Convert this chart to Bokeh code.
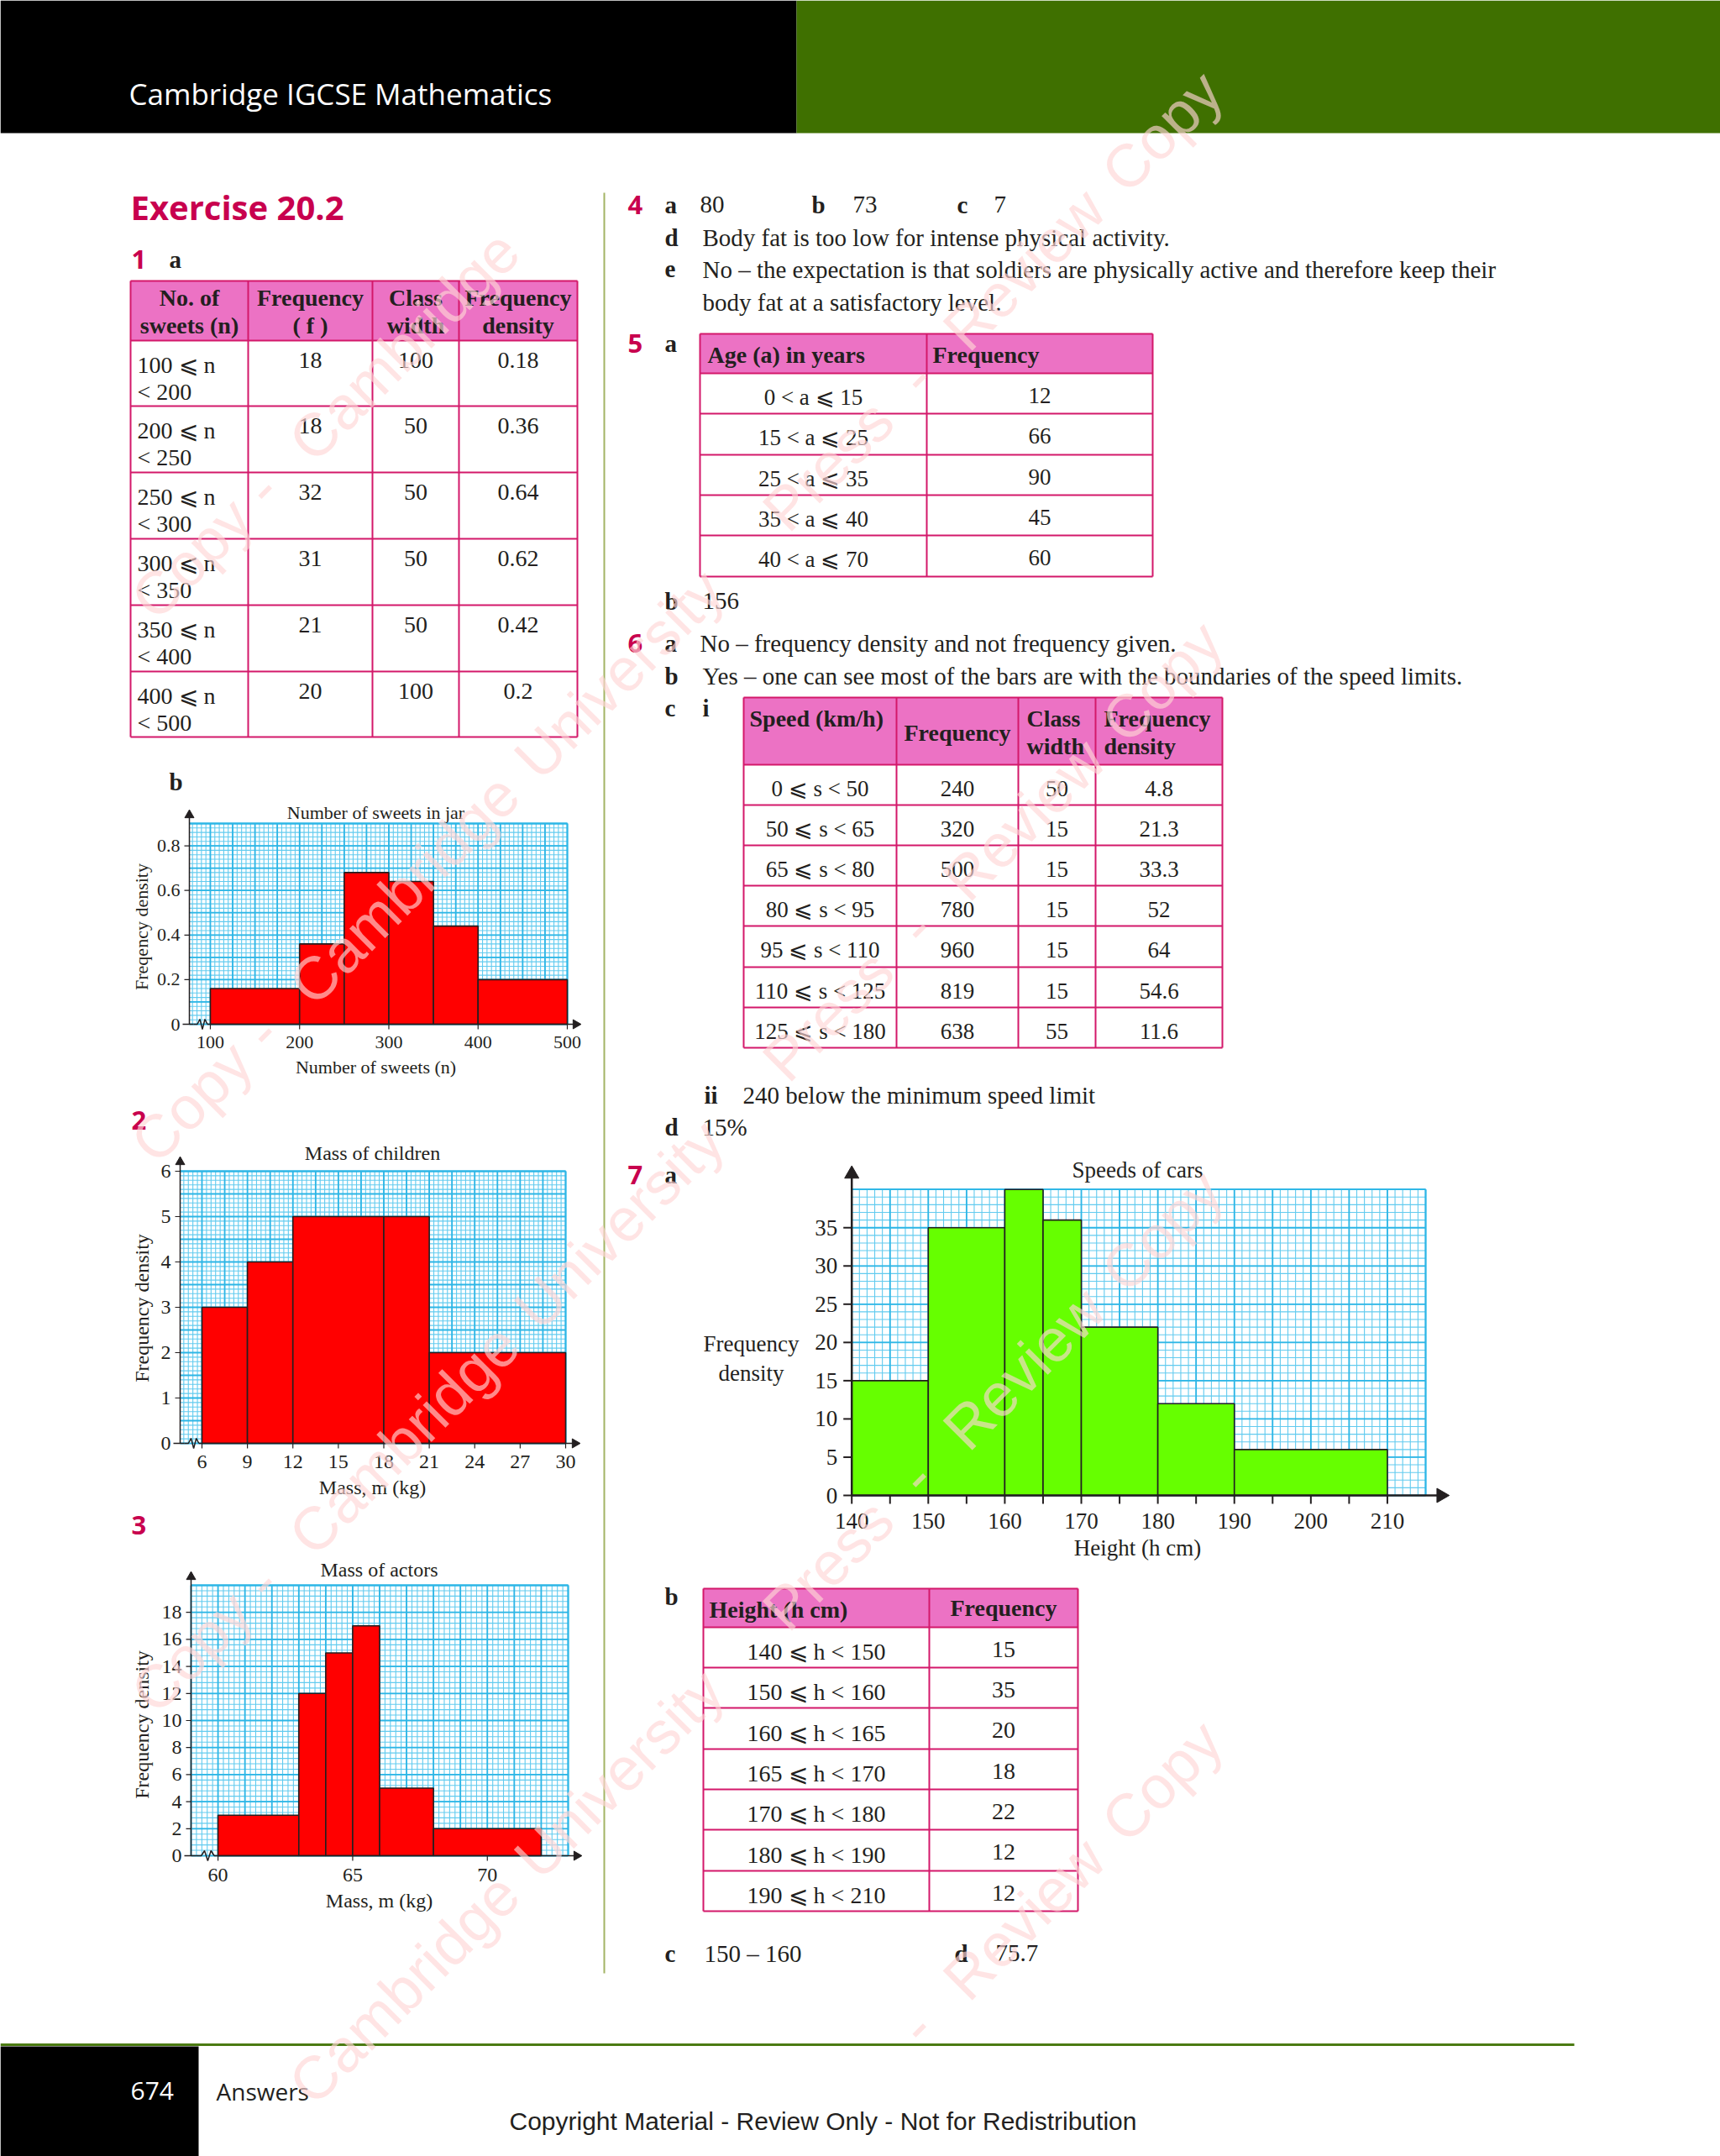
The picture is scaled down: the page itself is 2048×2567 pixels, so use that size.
import numpy as np
from bokeh.plotting import figure
from bokeh.models import Range1d
from bokeh.core.properties import value
from bokeh.embed import file_html
from bokeh.resources import INLINE

# ---------------- data ----------------
# Q1 a table
t1_lower = [100, 200, 250, 300, 350, 400]
t1_upper = [200, 250, 300, 350, 400, 500]
t1_freq = [18, 18, 32, 31, 21, 20]
t1_width = [100, 50, 50, 50, 50, 100]
t1_density = ["0.18", "0.36", "0.64", "0.62", "0.42", "0.2"]

# Q1 b histogram
h1_edges = [100, 200, 250, 300, 350, 400, 500]
h1_heights = [0.16, 0.36, 0.68, 0.64, 0.44, 0.2]
h1_xticks = [100, 200, 300, 400, 500]
h1_yticks = [0, 0.2, 0.4, 0.6, 0.8]
h1_ylabels = ["0", "0.2", "0.4", "0.6", "0.8"]

# Q2 histogram
h2_edges = [6, 9, 12, 18, 21, 30]
h2_heights = [3, 4, 5, 5, 2]
h2_xticks = [6, 9, 12, 15, 18, 21, 24, 27, 30]
h2_yticks = [0, 1, 2, 3, 4, 5, 6]

# Q3 histogram
h3_edges = [60, 63, 64, 65, 66, 68, 72]
h3_heights = [3, 12, 15, 17, 5, 2]
h3_xticks = [60, 65, 70]
h3_yticks = [0, 2, 4, 6, 8, 10, 12, 14, 16, 18]

# Q4 answers
q4_labels = ["a", "b", "c"]
q4_values = ["80", "73", "7"]

# Q5 table
t5_lower = [0, 15, 25, 35, 40]
t5_upper = [15, 25, 35, 40, 70]
t5_freq = [12, 66, 90, 45, 60]

# Q6 c table
t6_lower = [0, 50, 65, 80, 95, 110, 125]
t6_upper = [50, 65, 80, 95, 110, 125, 180]
t6_freq = [240, 320, 500, 780, 960, 819, 638]
t6_width = [50, 15, 15, 15, 15, 15, 55]
t6_density = ["4.8", "21.3", "33.3", "52", "64", "54.6", "11.6"]

# Q7 a histogram
h7_edges = [140, 150, 160, 165, 170, 180, 190, 210]
h7_heights = [15, 35, 40, 36, 22, 12, 6]
h7_xmarks = [140, 145, 150, 155, 160, 165, 170, 175, 180, 185, 190, 195, 200, 205, 210]
h7_xticks = [140, 150, 160, 170, 180, 190, 200, 210]
h7_yticks = [0, 5, 10, 15, 20, 25, 30, 35]

# Q7 b table
t7_lower = [140, 150, 160, 165, 170, 180, 190]
t7_upper = [150, 160, 165, 170, 180, 190, 210]
t7_freq = [15, 35, 20, 18, 22, 12, 12]

# ---------------- style ----------------
SERIF = "Liberation Serif"
SANS = "Open Sans"
INK = "#231f20"
CRIMSON = "#c8004e"
PINK = "#ec72c4"
BORDER = "#d3186a"
GRID_MINOR = "#62cbef"
GRID_MAJOR = "#2db6e6"
GREEN_HDR = "#3f7000"
W, H = 2048, 2567

p = figure(width=W, height=H, x_range=Range1d(0, W), y_range=Range1d(H, 0),
           output_backend="svg", toolbar_location=None, min_border=0,
           x_axis_type=None, y_axis_type=None)
p.outline_line_color = None
p.background_fill_color = "white"
p.border_fill_color = "white"


def T(x, y, s, size, font=SERIF, color=INK, align="left", style="normal", angle=0.0, alpha=1.0):
    if isinstance(s, str):
        s = [s]
    n = len(s)
    x = [x] * n if np.isscalar(x) else list(x)
    y = [y] * n if np.isscalar(y) else list(y)
    p.text(x=x, y=y, text=list(s), text_font=value(font), text_font_size=f"{size}px",
           text_color=color, text_align=align, text_baseline="middle",
           text_font_style=style, angle=angle, text_alpha=alpha)


def table(cols, rows, nhead=1):
    p.quad(left=[cols[0]], right=[cols[-1]], top=[rows[0]], bottom=[rows[nhead]],
           fill_color=PINK, line_color=None)
    p.segment(x0=[cols[0]] * len(rows), x1=[cols[-1]] * len(rows), y0=rows, y1=rows,
              line_color=BORDER, line_width=2)
    p.segment(x0=cols, x1=cols, y0=[rows[0]] * len(cols), y1=[rows[-1]] * len(cols),
              line_color=BORDER, line_width=2)


def histogram(edges, heights, xticks, xlabels, yticks, ylabels, *, xsrc, ysrc, xbox, ybox,
              xminor, xmajor, yminor, ymajor, bar_color, fs, ylab_dx, xlab_dy, tick_px,
              axis_w, arrow_px, arrow_size, xmarks=None, brk=True):
    x0, x1 = xsrc
    y0, y1 = ysrc
    sub = p.subplot(x_source=Range1d(x0, x1), y_source=Range1d(y0, y1),
                    x_target=Range1d(*xbox), y_target=Range1d(*ybox))
    ppx = (xbox[1] - xbox[0]) / (x1 - x0)
    ppy = abs(ybox[0] - ybox[1]) / (y1 - y0)
    # graph paper
    for sx, sy, col, w in [(xminor, yminor, GRID_MINOR, 1.1), (xmajor, ymajor, GRID_MAJOR, 1.8)]:
        xs = np.arange(np.ceil(x0 / sx - 1e-6) * sx, x1 + 1e-6, sx)
        ys = np.arange(y0, y1 + 1e-6, sy)
        sub.segment(x0=xs, x1=xs, y0=[y0] * len(xs), y1=[y1] * len(xs), line_color=col, line_width=w)
        sub.segment(x0=[x0] * len(ys), x1=[x1] * len(ys), y0=ys, y1=ys, line_color=col, line_width=w)
    sub.segment(x0=[x1, x0], x1=[x1, x1], y0=[y0, y1], y1=[y1, y1], line_color=GRID_MAJOR, line_width=1.8)
    # bars
    sub.quad(left=edges[:-1], right=edges[1:], bottom=[0] * len(heights), top=heights,
             fill_color=bar_color, line_color=INK, line_width=1.6)
    # axes
    ax_top = y1 + arrow_px / ppy
    ax_right = x1 + arrow_px / ppx
    sub.segment(x0=[x0], x1=[x0], y0=[0], y1=[ax_top - 0.4 * arrow_size / ppy], line_color=INK, line_width=axis_w)
    if brk:
        xt = xticks[0]
        f = np.array([0.2, 0.38, 0.5, 0.62, 0.74, 0.86])
        bx = x0 + (xt - x0) * f
        by = np.array([0, 0, 1, -1, 1, 0]) * (6 / ppy)
        sub.segment(x0=[x0 - 8 / ppx, bx[-1]], x1=[bx[0], ax_right - 0.4 * arrow_size / ppx],
                    y0=[0, 0], y1=[0, 0], line_color=INK, line_width=axis_w)
        sub.line(x=bx, y=by, line_color=INK, line_width=axis_w)
    else:
        sub.segment(x0=[x0], x1=[ax_right - 0.4 * arrow_size / ppx], y0=[0], y1=[0],
                    line_color=INK, line_width=axis_w)
    sub.scatter(x=[x0], y=[ax_top - 0.45 * arrow_size / ppy], marker="triangle", size=arrow_size,
                fill_color=INK, line_color=INK)
    sub.scatter(x=[ax_right - 0.45 * arrow_size / ppx], y=[0], marker="triangle", angle=-np.pi / 2,
                size=arrow_size, fill_color=INK, line_color=INK)
    # ticks
    tx, ty = tick_px / ppx, tick_px / ppy
    sub.segment(x0=[x0 - tx] * len(yticks), x1=[x0] * len(yticks), y0=yticks, y1=yticks,
                line_color=INK, line_width=axis_w * 0.8)
    marks = xmarks if xmarks is not None else xticks
    sub.segment(x0=marks, x1=marks, y0=[0] * len(marks), y1=[-ty] * len(marks),
                line_color=INK, line_width=axis_w * 0.8)
    # tick labels
    sub.text(x=[x0] * len(yticks), y=yticks, text=ylabels, x_offset=-ylab_dx,
             text_align="right", text_baseline="middle", text_font=value(SERIF),
             text_font_size=f"{fs}px", text_color=INK)
    sub.text(x=xticks, y=[0] * len(xticks), text=xlabels, y_offset=xlab_dy,
             text_align="center", text_baseline="middle", text_font=value(SERIF),
             text_font_size=f"{fs}px", text_color=INK)


# ---------------- header ----------------
p.quad(left=[0, 948], right=[948, W], top=[0, 0], bottom=[158, 158], fill_color=["black", GREEN_HDR],
       line_color=None)
T(153, 111, "Cambridge IGCSE Mathematics", 35, font=SANS, color="white")

# divider
p.segment(x0=[719], x1=[719], y0=[229], y1=[2349], line_color="#a3b465", line_width=2)

# ---------------- left column ----------------
T(155, 246, "Exercise 20.2", 40, font=SANS, color=CRIMSON, style="bold")
T(156, 308, "1", 31, font=SANS, color=CRIMSON, style="bold")
T(201, 308, "a", 29, style="bold")

c1 = [155, 295, 443, 546, 687]
r1 = [334, 405, 483, 562, 641, 720, 799, 877]
table(c1, r1)
cc1 = [(c1[i] + c1[i + 1]) / 2 for i in range(4)]
T([cc1[0], cc1[1], cc1[2], cc1[3]], 354, ["No. of", "Frequency", "Class", "Frequency"], 28, style="bold", align="center")
T([cc1[0], cc1[1], cc1[2], cc1[3]], 387, ["sweets (n)", "( f )", "width", "density"], 28, style="bold", align="center")
rt = np.array(r1[1:-1])
T(163, rt + 29, [f"{v} ⩽ n" for v in t1_lower], 28)
T(163, rt + 61, [f"< {v}" for v in t1_upper], 28)
T(cc1[1], rt + 23, [str(v) for v in t1_freq], 28, align="center")
T(cc1[2], rt + 23, [str(v) for v in t1_width], 28, align="center")
T(cc1[3], rt + 23, t1_density, 28, align="center")

# Q1 b
T(201, 930, "b", 29, style="bold")
histogram(h1_edges, h1_heights, h1_xticks, [str(v) for v in h1_xticks], h1_yticks, h1_ylabels,
          xsrc=(76.5, 500), ysrc=(0, 0.9), xbox=(225, 675), ybox=(1219, 980),
          xminor=5, xmajor=25, yminor=0.02, ymajor=0.1, bar_color="#ff0000", fs=22,
          ylab_dx=11, xlab_dy=21, tick_px=6, axis_w=1.5, arrow_px=15, arrow_size=11)
T(447, 967, "Number of sweets in jar", 22, align="center")
T(447, 1270, "Number of sweets (n)", 22, align="center")
T(168, 1103, "Freqency density", 22, align="center", angle=np.pi / 2)

# Q2
T(156, 1333, "2", 31, font=SANS, color=CRIMSON, style="bold")
histogram(h2_edges, h2_heights, h2_xticks, [str(v) for v in h2_xticks], h2_yticks, [str(v) for v in h2_yticks],
          xsrc=(4.56, 30), ysrc=(0, 6), xbox=(214, 673), ybox=(1718, 1394),
          xminor=0.3, xmajor=1.5, yminor=0.1, ymajor=0.5, bar_color="#ff0000", fs=24,
          ylab_dx=11, xlab_dy=22, tick_px=6, axis_w=1.5, arrow_px=16, arrow_size=11)
T(443, 1372, "Mass of children", 24, align="center")
T(443, 1770, "Mass, m (kg)", 24, align="center")
T(168, 1557, "Frequency density", 24, align="center", angle=np.pi / 2)

# Q3
T(156, 1815, "3", 31, font=SANS, color=CRIMSON, style="bold")
histogram(h3_edges, h3_heights, h3_xticks, [str(v) for v in h3_xticks], h3_yticks, [str(v) for v in h3_yticks],
          xsrc=(59.0, 73.0), ysrc=(0, 20), xbox=(227, 676), ybox=(2209, 1887),
          xminor=0.2, xmajor=1, yminor=0.4, ymajor=2, bar_color="#ff0000", fs=24,
          ylab_dx=11, xlab_dy=23, tick_px=6, axis_w=1.5, arrow_px=15, arrow_size=11)
T(451, 1868, "Mass of actors", 24, align="center")
T(451, 2262, "Mass, m (kg)", 24, align="center")
T(168, 2053, "Frequency density", 24, align="center", angle=np.pi / 2)

# ---------------- right column ----------------
FS = 29
T(747, 243, "4", 31, font=SANS, color=CRIMSON, style="bold")
T([791, 966, 1139], 243, q4_labels, FS, style="bold")
T([833, 1015, 1183], 243, q4_values, FS)
T(791, 282, "d", FS, style="bold")
T(836, 282, "Body fat is too low for intense physical activity.", FS)
T(791, 320, "e", FS, style="bold")
T(836, 320, "No – the expectation is that soldiers are physically active and therefore keep their", FS)
T(836, 359, "body fat at a satisfactory level.", FS)

T(747, 408, "5", 31, font=SANS, color=CRIMSON, style="bold")
T(791, 408, "a", FS, style="bold")
c5 = [833, 1103, 1372]
r5 = [397, 444, 492, 541, 589, 637, 686]
table(c5, r5)
T([842, 1110], 422, ["Age (a) in years", "Frequency"], 28, style="bold")
rt5 = np.array(r5[1:-1]) + np.diff(r5[1:]) / 2 + 4
T((c5[0] + c5[1]) / 2, rt5, [f"{a} < a ⩽ {b}" for a, b in zip(t5_lower, t5_upper)], 27, align="center")
T((c5[1] + c5[2]) / 2, rt5 - 2, [str(v) for v in t5_freq], 27, align="center")
T(791, 715, "b", FS, style="bold")
T(836, 715, "156", FS)

T(747, 765, "6", 31, font=SANS, color=CRIMSON, style="bold")
T(791, 765, "a", FS, style="bold")
T(833, 765, "No – frequency density and not frequency given.", FS)
T(791, 804, "b", FS, style="bold")
T(836, 804, "Yes – one can see most of the bars are with the boundaries of the speed limits.", FS)
T(791, 842, "c", FS, style="bold")
T(836, 842, "i", FS, style="bold")
c6 = [885, 1067, 1212, 1304, 1455]
r6 = [830, 910, 958, 1006, 1054, 1102, 1151, 1199, 1247]
table(c6, r6)
T(892, 855, "Speed (km/h)", 28, style="bold")
T((c6[1] + c6[2]) / 2, 872, "Frequency", 28, style="bold", align="center")
T([1222, 1314], 855, ["Class", "Frequency"], 28, style="bold")
T([1222, 1314], 888, ["width", "density"], 28, style="bold")
rt6 = np.array(r6[1:-1]) + np.diff(r6[1:]) / 2 + 4
cc6 = [(c6[i] + c6[i + 1]) / 2 for i in range(4)]
T(cc6[0], rt6, [f"{a} ⩽ s < {b}" for a, b in zip(t6_lower, t6_upper)], 27, align="center")
T(cc6[1], rt6, [str(v) for v in t6_freq], 27, align="center")
T(cc6[2], rt6, [str(v) for v in t6_width], 27, align="center")
T(cc6[3], rt6, t6_density, 27, align="center")
T(838, 1303, "ii", FS, style="bold")
T(884, 1303, "240 below the minimum speed limit", FS)
T(791, 1341, "d", FS, style="bold")
T(836, 1341, "15%", FS)

T(747, 1398, "7", 31, font=SANS, color=CRIMSON, style="bold")
T(791, 1398, "a", FS, style="bold")
histogram(h7_edges, h7_heights, h7_xticks, [str(v) for v in h7_xticks], h7_yticks, [str(v) for v in h7_yticks],
          xsrc=(140, 215), ysrc=(0, 40), xbox=(1013.7, 1697), ybox=(1780, 1415.7),
          xminor=1, xmajor=5, yminor=1, ymajor=5, bar_color="#66ff00", fs=27,
          ylab_dx=17, xlab_dy=30, tick_px=10, axis_w=2.5, arrow_px=26, arrow_size=17,
          xmarks=h7_xmarks, brk=False)
T(1354, 1392, "Speeds of cars", 27, align="center")
T(1354, 1842, "Height (h cm)", 27, align="center")
T(894, 1599, "Frequency", 27, align="center")
T(894, 1634, "density", 27, align="center")

T(791, 1900, "b", FS, style="bold")
c7 = [837, 1106, 1283]
r7 = [1891, 1937, 1985, 2033, 2082, 2130, 2178, 2227, 2275]
table(c7, r7)
T(844, 1916, "Height (h cm)", 28, style="bold")
T((c7[1] + c7[2]) / 2, 1914, "Frequency", 28, style="bold", align="center")
rt7 = np.array(r7[1:-1]) + np.diff(r7[1:]) / 2 + 5
T((c7[0] + c7[1]) / 2, rt7, [f"{a} ⩽ h < {b}" for a, b in zip(t7_lower, t7_upper)], 28, align="center")
T((c7[1] + c7[2]) / 2, rt7 - 3, [str(v) for v in t7_freq], 28, align="center")

T(791, 2325, "c", FS, style="bold")
T(838, 2325, "150 – 160", FS)
T(1136, 2325, "d", FS, style="bold")
T(1185, 2325, "75.7", FS)

# ---------------- footer ----------------
p.segment(x0=[0], x1=[1874], y0=[2434], y1=[2434], line_color="#4b7b12", line_width=3)
p.quad(left=[0], right=[236], top=[2436], bottom=[H], fill_color="black", line_color=None)
T(155, 2489, "674", 30, font=SANS, color="white")
T(257, 2489, "Answers", 28, font=SANS)
T(606, 2525, "Copyright Material  - Review Only -  Not for Redistribution", 30, font="Liberation Sans")

# ---------------- watermark (word by word, only words fully on the page) ----------------
wm_words = ["Review", "Copy", "-", "Cambridge", "University", "Press", "-", "Review", "Copy"]
wm_line_y = [892, 1539, 2194, 2848, 3503]
adv, c45 = 38.0, np.cos(np.pi / 4)
wx, wy, wt = [], [], []
for y0 in wm_line_y:
    pos = 0
    for wd in wm_words:
        sx = -20 + pos * adv * c45
        sy = y0 + 20 - pos * adv * c45
        L = len(wd) * adv * c45
        ex, ey = sx + L, sy - L
        m = 28
        if min(sx, ex) > m and max(sx, ex) < W - m and min(sy, ey) > m and max(sy, ey) < H - m:
            wx.append(sx)
            wy.append(sy)
            wt.append(wd)
        pos += len(wd) + 1
T(wx, wy, wt, 72, font="Liberation Sans", color="#ffd6d6", angle=np.pi / 4, alpha=0.65)

open("out.html", "w").write(file_html(p, INLINE))
